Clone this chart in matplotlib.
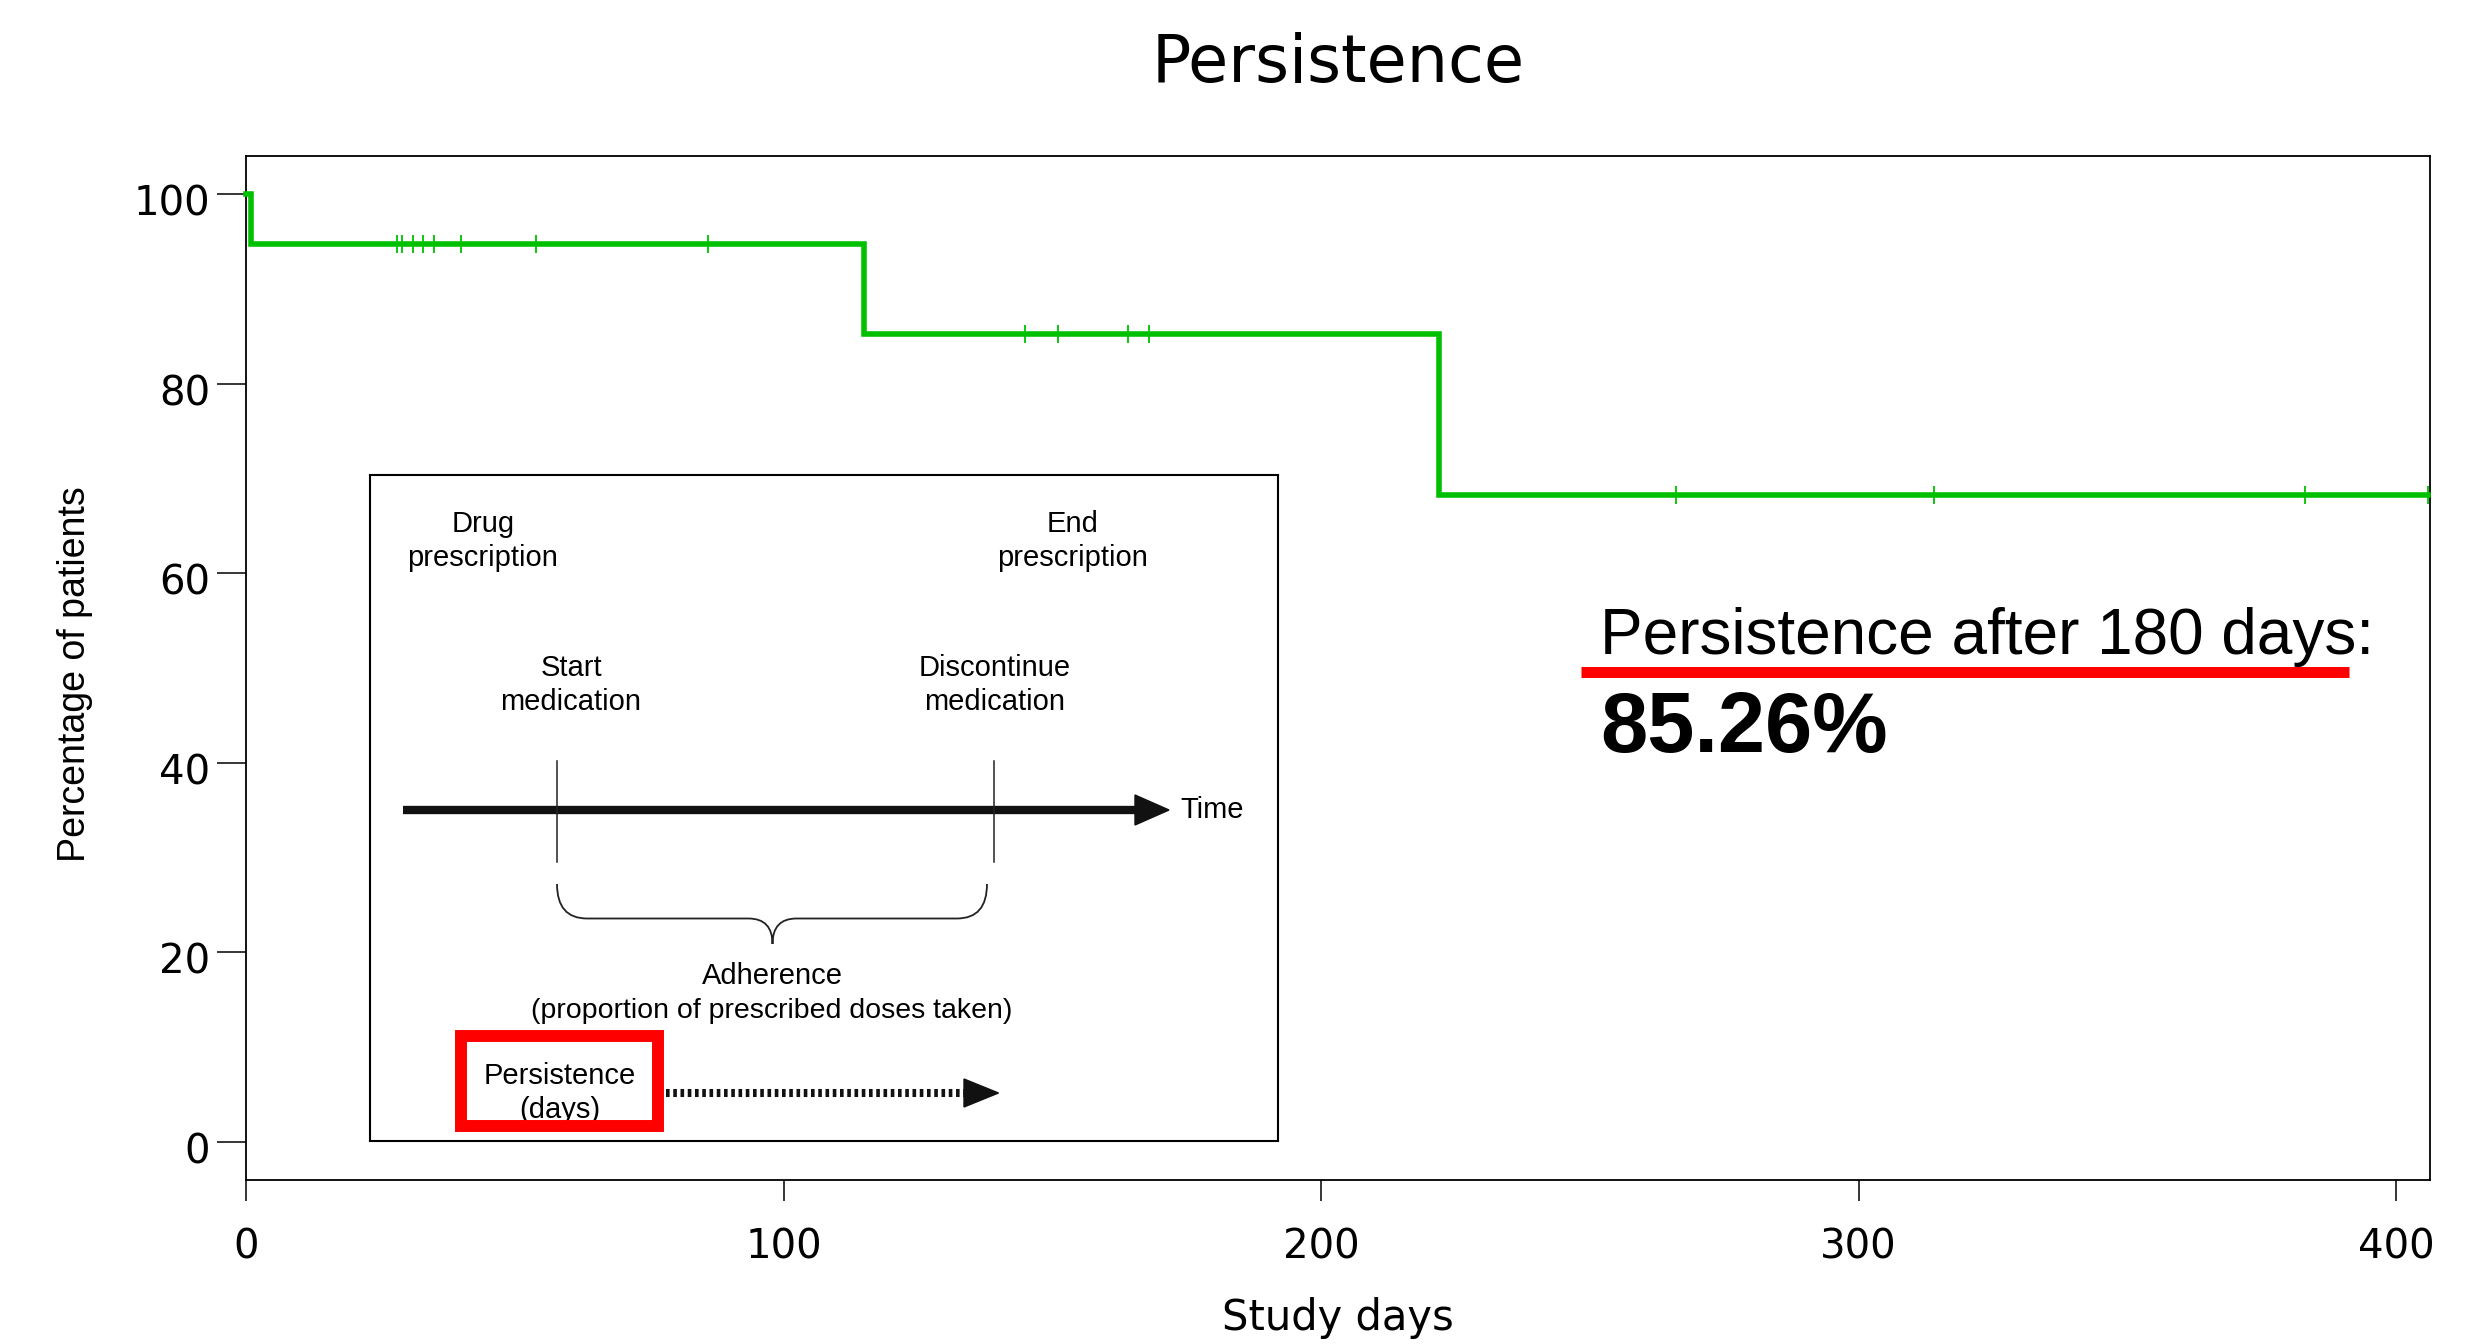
import matplotlib
matplotlib.use("agg")
import matplotlib.pyplot as plt
import matplotlib.transforms as mtransforms
from matplotlib.patches import Polygon, Rectangle, PathPatch
from matplotlib.path import Path
import numpy as np

# persistence curve (percent of patients still on treatment)
event_days = [0, 1, 115, 222]
survival_pct = [100, 94.74, 85.26, 68.21]
end_day = 406
censor_days = [28, 29, 31, 33, 35, 40, 54, 86,
               145, 151, 164, 168,
               266, 314, 383, 406]
x_ticks = [0, 100, 200, 300, 400]
y_ticks = [0, 20, 40, 60, 80, 100]
check_day = 180

green = '#00C000'
W, H = 2492, 1344


def level_at(day):
    i = np.searchsorted(event_days, day, side='right') - 1
    return survival_pct[i]


fig = plt.figure(figsize=(W / 100, H / 100), dpi=100)

# main axes, placed in pixel terms
ax = fig.add_axes([246 / W, 1 - 1180 / H, 2184 / W, 1024 / H])
ax.set_xlim(0, 406.3)
ax.set_ylim(-4.0, 104.0)

xs = event_days + [end_day]
ys = survival_pct + [survival_pct[-1]]
ax.step(xs, ys, where='post', color=green, lw=4.0, solid_joinstyle='miter', zorder=3, clip_on=False)
ax.plot(censor_days, [level_at(d) for d in censor_days], ls='none', marker='|',
        markersize=13.5, mew=1.3, color=green, zorder=4, clip_on=False)

for s in ax.spines.values():
    s.set_linewidth(1.3)
ax.set_xticks(x_ticks)
ax.set_yticks(y_ticks)
ax.tick_params(axis='x', length=15, width=1.1, pad=19, labelsize=29)
ax.tick_params(axis='y', length=21, width=1.1, pad=5, labelsize=29)
for lab in ax.get_yticklabels():
    lab.set_transform(lab.get_transform() + mtransforms.ScaledTranslation(0, -6 / 100, fig.dpi_scale_trans))

ax.set_title('Persistence', fontsize=47, pad=53)
ax.set_xlabel('Study days', fontsize=30)
ax.xaxis.set_label_coords(0.5, -0.114)
ax.set_ylabel('Percentage of patients', fontsize=27, family=['Liberation Sans Narrow', 'Liberation Sans'])
ax.yaxis.set_label_coords(-0.07, 0.494)

# annotation: persistence at 180 days
val = level_at(check_day)
ax.text(251.9, 51.5, f'Persistence after {check_day} days:', fontsize=46,
        family=['Liberation Sans', 'DejaVu Sans'], ha='left', va='baseline', zorder=5)
ax.plot([248.4, 391.3], [49.6, 49.6], color='red', lw=7.9, solid_capstyle='butt', zorder=5)
ax.text(251.9, 41.1, f'{val:.2f}%', fontsize=61, fontweight='bold',
        family=['Liberation Sans', 'DejaVu Sans'], ha='left', va='baseline', zorder=5)

# inset diagram (pixel-like coordinates inside the inset)
ins = fig.add_axes([370 / W, 1 - 1141 / H, 908 / W, 666 / H], zorder=5)
ins.set_xlim(0, 908)
ins.set_ylim(666, 0)
ins.set_xticks([])
ins.set_yticks([])
for s in ins.spines.values():
    s.set_linewidth(1.5)

tf = dict(fontsize=21, family=['Liberation Sans', 'DejaVu Sans'], ha='center', va='center', linespacing=1.25)
ins.text(113, 66, 'Drug\nprescription', **tf)
ins.text(703, 66, 'End\nprescription', **tf)
ins.text(201, 210, 'Start\nmedication', **tf)
ins.text(625, 210, 'Discontinue\nmedication', **tf)
ins.text(402, 501, 'Adherence', **tf)
ins.text(402, 536, '(proportion of prescribed doses taken)', fontsize=20.5,
         family=['Liberation Sans', 'DejaVu Sans'], ha='center', va='center')
ins.text(190, 601, 'Persistence', **tf)
ins.text(190, 635, '(days)', **tf)
ins.text(810, 335, 'Time', fontsize=21, family=['Liberation Sans', 'DejaVu Sans'], ha='left', va='center')

# time arrow
ins.plot([33, 770], [335, 335], color='#111111', lw=6.0, solid_capstyle='butt')
ins.add_patch(Polygon([(765, 320), (799, 335), (765, 350)], closed=True, color='#111111'))
for vx in [187, 624]:
    ins.plot([vx, vx], [286, 387], color='#222222', lw=1.1)

# brace
L, R, top, mid, tipx, tipy = 187, 617, 409, 443.5, 402.5, 469
verts = [(L, top), (L, mid), (L + 30, mid), (tipx - 24, mid), (tipx, mid), (tipx, tipy),
         (tipx, mid), (tipx + 24, mid), (R - 30, mid), (R, mid), (R, top)]
codes = [Path.MOVETO, Path.CURVE3, Path.CURVE3, Path.LINETO, Path.CURVE3, Path.CURVE3,
         Path.CURVE3, Path.CURVE3, Path.LINETO, Path.CURVE3, Path.CURVE3]
ins.add_patch(PathPatch(Path(verts, codes), fill=False, lw=1.3, edgecolor='#222222'))

# persistence dotted arrow + red box
ins.plot([296, 596], [618, 618], color='#111111', lw=5.8, dashes=(0.45, 0.45), solid_capstyle='butt',
         dash_capstyle='butt')
ins.add_patch(Polygon([(594, 604), (628.5, 618), (594, 632)], closed=True, color='#111111'))
ins.add_patch(Rectangle((90.7, 560.5), 196.8, 90, fill=False, edgecolor='red', lw=8.6,
                        joinstyle='miter', zorder=6))

fig.savefig('out.png', dpi=100)
